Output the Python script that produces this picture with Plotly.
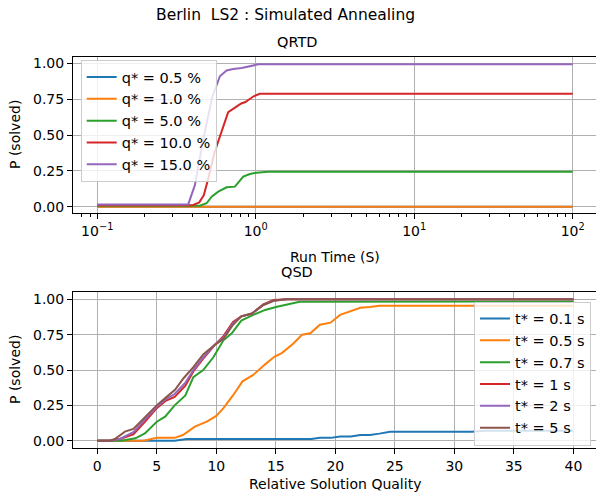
import plotly.graph_objects as go

# ---------------- data ----------------
# QRTD (top): run time (s) vs P(solved)
qrtd_labels = ["q* = 0.5 %", "q* = 1.0 %", "q* = 5.0 %", "q* = 10.0 %", "q* = 15.0 %"]
q05_t = [0.1, 100]
q05_p = [0.0, 0.0]
q10_t = [0.1, 100]
q10_p = [0.0, 0.0]
q50_t = [0.1, 0.444, 0.49, 0.527, 0.58, 0.655, 0.739, 0.834, 0.919, 1.01, 1.2, 100]
q50_p = [0.007, 0.007, 0.024, 0.07, 0.105, 0.135, 0.14, 0.21, 0.228, 0.237, 0.244, 0.244]
q100_t = [0.1, 0.40, 0.44, 0.47, 0.50, 0.55, 0.62, 0.67, 0.76, 0.81, 0.86, 0.92, 0.97, 1.06, 100]
q100_p = [0.01, 0.01, 0.03, 0.08, 0.19, 0.38, 0.55, 0.66, 0.70, 0.72, 0.73, 0.755, 0.77, 0.787, 0.787]
q150_t = [0.1, 0.375, 0.413, 0.467, 0.53, 0.594, 0.655, 0.721, 0.815, 0.918, 1.04, 100]
q150_p = [0.016, 0.016, 0.15, 0.47, 0.76, 0.91, 0.95, 0.96, 0.967, 0.98, 0.993, 0.993]

# QSD (bottom): relative solution quality vs P(solved)
qsd_labels = ["t* = 0.1 s", "t* = 0.5 s", "t* = 0.7 s", "t* = 1 s", "t* = 2 s", "t* = 5 s"]
t01_q = [0, 6.5, 7.5, 18.0, 18.7, 19.6, 20.4, 21.3, 22.1, 22.9, 23.7, 24.6, 31.5, 32.5, 40]
t01_p = [0, 0, 0.012, 0.012, 0.02, 0.02, 0.03, 0.03, 0.04, 0.04, 0.05, 0.064, 0.064, 0.07, 0.07]
t05_q = [0, 3.9, 5.0, 6.5, 7.2, 8.2, 9.2, 10.0, 10.6, 11.4, 12.2, 13.1, 14.1, 14.9, 15.5,
         16.5, 17.2, 17.9, 18.7, 19.6, 20.4, 22.1, 22.9, 23.7, 40]
t05_p = [0, 0, 0.02, 0.02, 0.04, 0.10, 0.135, 0.175, 0.23, 0.32, 0.42, 0.465, 0.54, 0.595, 0.62,
         0.69, 0.75, 0.76, 0.82, 0.835, 0.89, 0.94, 0.945, 0.955, 0.955]
t07_q = [0, 2.0, 3.2, 4.0, 5.0, 5.7, 6.5, 7.4, 8.07, 8.9, 9.75, 10.6, 11.3, 12.1, 13.1, 14.1,
         15.1, 16.2, 17.0, 40]
t07_p = [0, 0, 0.017, 0.052, 0.134, 0.17, 0.25, 0.32, 0.45, 0.50, 0.59, 0.71, 0.76, 0.85, 0.89,
         0.925, 0.948, 0.97, 0.983, 0.985]
t1_q = [0, 1.06, 1.9, 3.03, 4.0, 5.0, 5.7, 6.5, 7.4, 8.07, 8.9, 9.9, 10.6, 11.4, 12.1, 13.0,
        13.95, 14.8, 15.9, 40]
t1_p = [0, 0, 0.012, 0.045, 0.134, 0.23, 0.28, 0.31, 0.39, 0.49, 0.58, 0.68, 0.74, 0.84, 0.88,
        0.90, 0.965, 0.995, 1.0, 1.0]
t2_q = [0, 1.06, 1.9, 3.03, 4.0, 5.0, 5.7, 6.5, 7.4, 8.07, 8.9, 9.9, 10.6, 11.4, 12.1, 13.0,
        13.95, 14.8, 15.9, 40]
t2_p = [0, 0, 0.012, 0.06, 0.15, 0.24, 0.29, 0.33, 0.41, 0.5, 0.59, 0.68, 0.73, 0.83, 0.88,
        0.90, 0.96, 0.99, 1.0, 1.0]
t5_q = [0, 1.06, 1.48, 2.32, 3.03, 4.15, 4.99, 5.83, 6.53, 7.23, 8.07, 8.9, 9.9, 10.6, 11.4,
        12.1, 13.0, 13.95, 14.8, 15.9, 40]
t5_p = [0, 0, 0.012, 0.064, 0.083, 0.18, 0.25, 0.31, 0.36, 0.44, 0.52, 0.61, 0.68, 0.72, 0.82,
        0.88, 0.90, 0.96, 0.99, 1.0, 1.0]

y_ticks = [0, 0.25, 0.5, 0.75, 1.0]
y_ticktext = ["0.00", "0.25", "0.50", "0.75", "1.00"]
top_xticks = [0.1, 1, 10, 100]
top_xticktext = ["10<sup>−1</sup>", "10<sup>0</sup>", "10<sup>1</sup>", "10<sup>2</sup>"]
top_minor = [0.08, 0.09, 0.2, 0.3, 0.4, 0.5, 0.6, 0.7, 0.8, 0.9,
             2, 3, 4, 5, 6, 7, 8, 9, 20, 30, 40, 50, 60, 70, 80, 90]
bot_xticks = [0, 5, 10, 15, 20, 25, 30, 35, 40]

colors = ["#1f77b4", "#ff7f0e", "#2ca02c", "#d62728", "#9467bd", "#8c564b"]

# ---------------- figure ----------------
W, H = 596, 500
ML, MR, MT, MB = 73, 0, 0, 0
FONT = "DejaVu Sans"
fig = go.Figure()

top_series = [(q05_t, q05_p), (q10_t, q10_p), (q50_t, q50_p), (q100_t, q100_p), (q150_t, q150_p)]
for i, (xs, ys) in enumerate(top_series):
    fig.add_trace(go.Scatter(x=xs, y=ys, mode="lines", name=qrtd_labels[i],
                             line=dict(color=colors[i], width=2),
                             xaxis="x", yaxis="y", legend="legend"))

bot_series = [(t01_q, t01_p), (t05_q, t05_p), (t07_q, t07_p), (t1_q, t1_p), (t2_q, t2_p), (t5_q, t5_p)]
for i, (xs, ys) in enumerate(bot_series):
    fig.add_trace(go.Scatter(x=xs, y=ys, mode="lines", name=qsd_labels[i],
                             line=dict(color=colors[i], width=2),
                             xaxis="x2", yaxis="y2", legend="legend2"))

PW, PH = W - ML - MR, H - MT - MB

def px(p):  # pixel x -> paper (plot area)
    return (p - ML) / PW

def py(p):  # pixel y (from top) -> paper
    return 1 - (p - MT) / PH

grid = dict(showgrid=True, gridcolor="#b0b0b0", gridwidth=1)
axis_common = dict(showline=True, linecolor="black", linewidth=1, ticks="outside",
                   ticklen=5, tickcolor="black", tickwidth=1, zeroline=False, automargin=False,
                   tickfont=dict(family=FONT, size=14, color="black"), **grid)

fig.update_layout(
    width=W, height=H,
    margin=dict(l=ML, r=MR, t=MT, b=MB, autoexpand=False),
    paper_bgcolor="white", plot_bgcolor="white",
    font=dict(family=FONT, size=14, color="black"),
    xaxis=dict(type="log", range=[-1.153, 2.147], domain=[0, 1], anchor="y",
               tickvals=top_xticks, ticktext=top_xticktext, mirror=True,
               minor=dict(tickvals=top_minor, ticks="outside", ticklen=3, tickcolor="black",
                          showgrid=False),
               **axis_common),
    yaxis=dict(range=[-0.046, 1.042], domain=[py(213.3), py(57.3)], anchor="x",
               tickvals=y_ticks, ticktext=y_ticktext, **axis_common),
    xaxis2=dict(range=[-2.04, 41.9], domain=[0, 1], anchor="y2",
                tickvals=bot_xticks, mirror=True, **axis_common),
    yaxis2=dict(range=[-0.0495, 1.054], domain=[py(447.7), py(291.7)], anchor="x2",
                tickvals=y_ticks, ticktext=y_ticktext, **axis_common),
    legend=dict(x=px(80.7), y=py(60), xanchor="left", yanchor="top",
                bgcolor="rgba(255,255,255,0.8)", bordercolor="#cccccc", borderwidth=1,
                font=dict(family=FONT, size=14.5, color="black")),
    legend2=dict(x=px(591), y=py(301.5), xanchor="right", yanchor="top",
                 bgcolor="rgba(255,255,255,0.8)", bordercolor="#cccccc", borderwidth=1,
                 font=dict(family=FONT, size=14.5, color="black")),
    showlegend=True,
)

def ann(text, x, y, size, angle=0):
    fig.add_annotation(text=text, x=px(x), y=py(y), xref="paper", yref="paper",
                       xanchor="center", yanchor="middle", showarrow=False,
                       textangle=angle, font=dict(family=FONT, size=size, color="black"))

ann("Berlin  LS2 : Simulated Annealing", 285, 15, 15.5)
ann("QRTD", 297, 42, 14.5)
ann("QSD", 297, 272, 14.5)
ann("Run Time (S)", 335, 257, 14)
ann("Relative Solution Quality", 335, 484, 14)
ann("P (solved)", 15, 135, 14, -90)
ann("P (solved)", 15, 370, 14, -90)

fig.write_html("out.html", config={"displayModeBar": False},
               post_script="document.body.style.margin='0';document.body.style.padding='0';")
